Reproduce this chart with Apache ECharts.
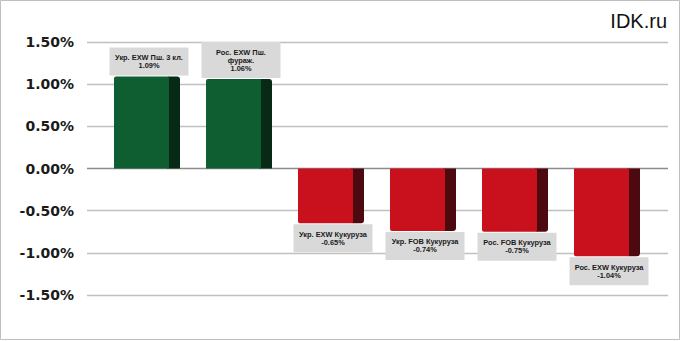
<!DOCTYPE html>
<html>
<head>
<meta charset="utf-8">
<script src="https://cdn.jsdelivr.net/npm/echarts@6/dist/echarts.min.js"></script>
<style>
  html, body { margin: 0; padding: 0; background: #fff; }
  #chart { width: 681px; height: 341px; }
</style>
</head>
<body>
<div id="chart"></div>
<script>
// ---- data ----
var categories = [
  "Укр. EXW Пш. 3 кл.",
  "Рос. EXW Пш.\nфураж.",
  "Укр. EXW Кукуруза",
  "Укр. FOB Кукуруза",
  "Рос. FOB Кукуруза",
  "Рос. EXW Кукуруза"
];
var values = [1.09, 1.06, -0.65, -0.74, -0.75, -1.04];
var yTicks = [-1.5, -1.0, -0.5, 0, 0.5, 1.0, 1.5];
var brand = "IDK.ru";

// ---- chart ----
var chart = echarts.init(document.getElementById('chart'), null, { renderer: 'svg' });

var seriesData = values.map(function (v, i) { return [i, v]; });

function fmtPct(v) { return v.toFixed(2) + '%'; }

var option = {
  backgroundColor: '#ffffff',
  animation: false,
  grid: { left: 87, right: 13, top: 42, bottom: 46 },
  xAxis: {
    type: 'value',
    min: -0.652,
    max: 5.663,
    show: false
  },
  yAxis: {
    type: 'value',
    min: yTicks[0],
    max: yTicks[yTicks.length - 1],
    interval: 0.5,
    axisLine: { show: false },
    axisTick: { show: false },
    axisLabel: {
      margin: 13,
      formatter: function (v) { return fmtPct(v); },
      fontFamily: 'DejaVu Sans',
      fontWeight: 'bold',
      fontSize: 14,
      color: '#1a1a1a'
    },
    splitLine: {
      show: true,
      lineStyle: {
        width: 1.3,
        color: yTicks.map(function (t) { return t === 0 ? '#8c8c8c' : '#c0c0c0'; })
      }
    }
  },
  graphic: [
    {
      type: 'rect',
      shape: { x: 0.5, y: 0.5, width: 679, height: 339 },
      style: { fill: 'none', stroke: '#bfbfbf', lineWidth: 1 },
      silent: true
    },
    {
      type: 'text',
      right: 14,
      top: 11,
      style: {
        text: brand,
        font: '20px "Liberation Sans", Arial, sans-serif',
        fill: '#111'
      }
    }
  ],
  series: [{
    type: 'custom',
    data: seriesData,
    renderItem: function (params, api) {
      var idx = api.value(0);
      var v = api.value(1);
      var c = api.coord([idx, v]);
      var z = api.coord([idx, 0]);
      var frontW = 55, sideW = 11, total = frontW + sideW;
      var x0 = Math.round(c[0] - total / 2);
      var top = Math.min(c[1], z[1]);
      var h = Math.abs(c[1] - z[1]);
      var pos = v >= 0;
      var frontCol = pos ? '#0f5e31' : '#c8111c';
      var sideCol = pos ? '#072915' : '#4c0a10';
      var lbl = categories[idx] + '\n' + fmtPct(v);
      var cx = x0 + total / 2 + 2;
      return {
        type: 'group',
        children: [
          {
            type: 'rect',
            shape: { x: x0 + frontW - 2, y: top, width: sideW + 2, height: h, r: pos ? [2, 3, 0, 0] : [0, 0, 3, 2] },
            style: { fill: sideCol }
          },
          {
            type: 'rect',
            shape: { x: x0, y: top, width: frontW, height: h, r: pos ? [2, 0, 0, 0] : [0, 0, 0, 2] },
            style: { fill: frontCol }
          },
          {
            type: 'text',
            style: {
              text: lbl,
              x: cx,
              y: pos ? top - 1 : top + h + 1,
              align: 'center',
              verticalAlign: pos ? 'bottom' : 'top',
              font: 'bold 7.4px "Liberation Sans", Arial, sans-serif',
              lineHeight: 8,
              fill: '#1a1a1a',
              backgroundColor: '#d9d9d9',
              padding: [6, 4, 6, 4],
              width: 71
            }
          }
        ]
      };
    }
  }]
};

chart.setOption(option);
</script>
</body>
</html>
